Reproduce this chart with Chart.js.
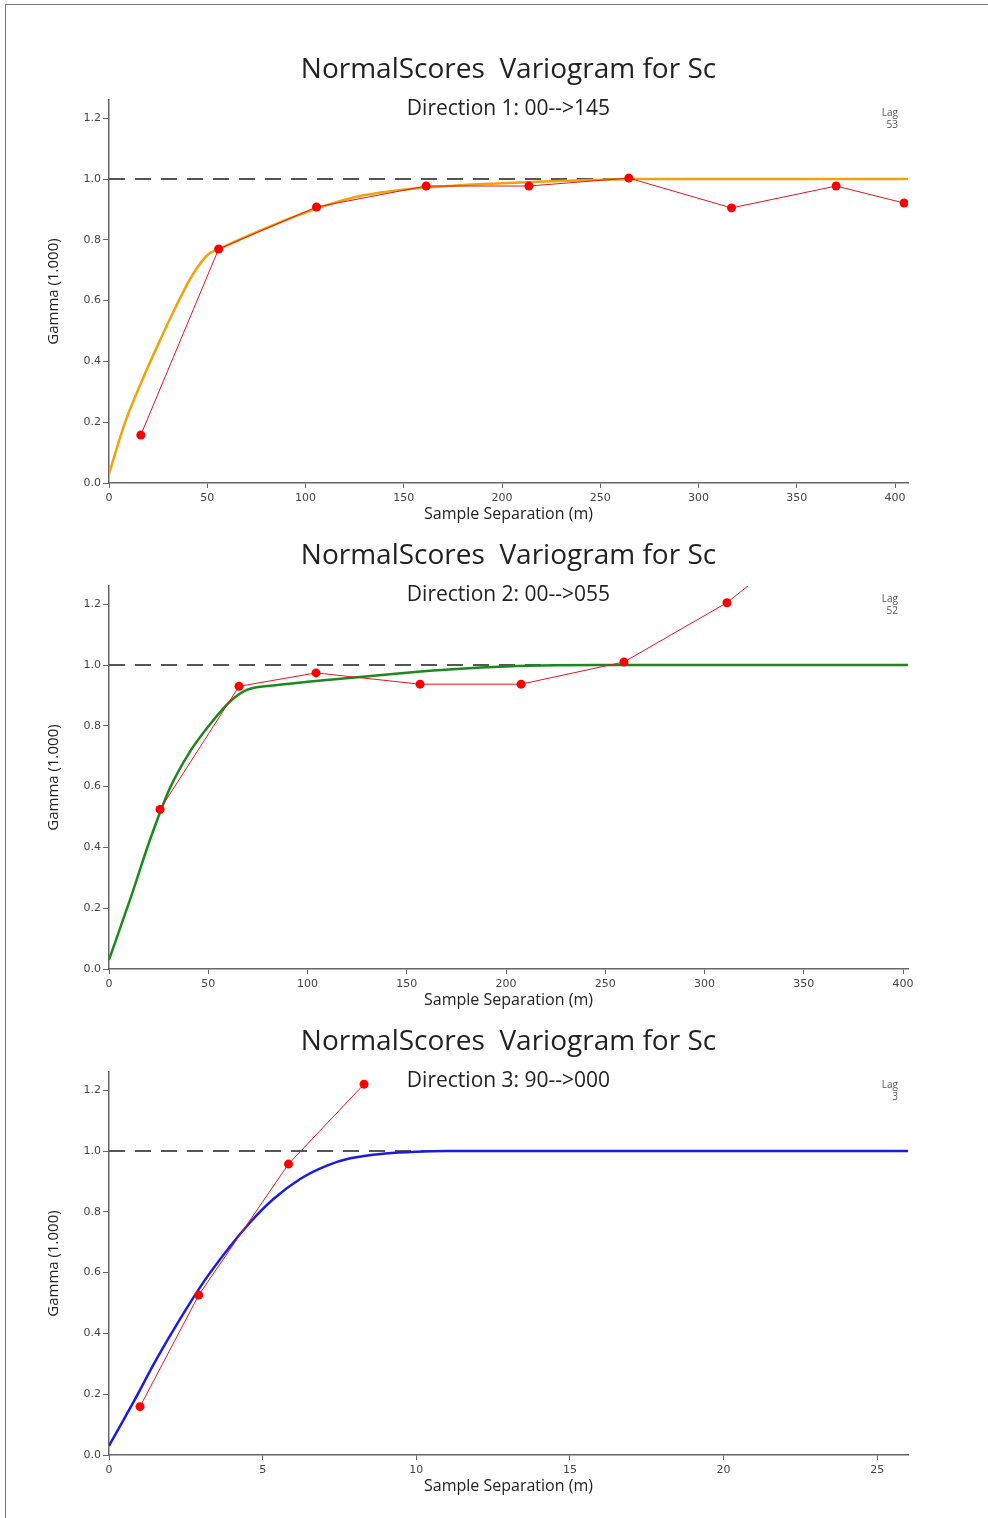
<!DOCTYPE html>
<html lang="en">
<head>
<meta charset="UTF-8">
<title>NormalScores Variogram for Sc</title>
<script src="https://cdn.jsdelivr.net/npm/chart.js"></script>
<style>
    body { margin: 0; background: #fff; width: 988px; height: 1518px; overflow: hidden; position: relative; }
    .frame { position: absolute; left: 5px; top: 4px; width: 1000px; height: 1600px; border: 1px solid #777; }
    canvas { position: absolute; left: 0; }
</style>
</head>
<body>

<div class="frame"></div>
<canvas id="dir1" width="988" height="486" style="top:40px"></canvas>
<canvas id="dir2" width="988" height="486" style="top:526px"></canvas>
<canvas id="dir3" width="988" height="486" style="top:1012px"></canvas>

<script>
// Direction 1: 00-->145
const d1ExpX = [16.2, 55.8, 105.6, 161.4, 213.7, 264.5, 316.8, 370.0, 404.6];
const d1ExpY = [0.158, 0.770, 0.908, 0.977, 0.977, 1.003, 0.905, 0.977, 0.921];
const d1ModX = [0, 8, 17, 26, 34, 43, 51, 56, 75, 100, 125, 150, 175, 200, 225, 250, 270, 406.6];
const d1ModY = [0.03, 0.196, 0.34, 0.47, 0.58, 0.69, 0.755, 0.77, 0.825, 0.89, 0.94, 0.965, 0.978, 0.986, 0.993, 0.998, 1.0, 1.0];

// Direction 2: 00-->055
const d2ExpX = [25.7, 65.5, 104.3, 156.7, 207.6, 259.4, 311.3, 362.0];
const d2ExpY = [0.525, 0.930, 0.974, 0.937, 0.937, 1.010, 1.205, 1.470];
const d2ModX = [0, 10.6, 20.7, 30.7, 40.8, 50.9, 61, 69.4, 86, 100, 125, 150, 175, 200, 225, 250, 402.5];
const d2ModY = [0.03, 0.228, 0.426, 0.595, 0.715, 0.805, 0.88, 0.918, 0.935, 0.945, 0.96, 0.975, 0.987, 0.995, 0.999, 1.0, 1.0];

// Direction 3: 90-->000
const d3ExpX = [1.01, 2.92, 5.84, 8.30];
const d3ExpY = [0.159, 0.526, 0.957, 1.220];
const d3ModX = [0, 0.79, 1.55, 2.31, 3.07, 3.83, 4.59, 5.35, 6.22, 7.09, 7.85, 9, 10, 11, 26];
const d3ModY = [0.03, 0.173, 0.316, 0.447, 0.568, 0.672, 0.765, 0.842, 0.908, 0.952, 0.976, 0.992, 0.998, 1.0, 1.0];

const sill = 1.0;
const yTicks = [0, 0.2, 0.4, 0.6, 0.8, 1.0, 1.2];
const xTicksLong = [0, 50, 100, 150, 200, 250, 300, 350, 400];
const xTicksShort = [0, 5, 10, 15, 20, 25];

// subtitle + lag note inside the plot area
const noteText = {
    id: 'noteText',
    afterDatasetsDraw(chart, args, opts) {
        const { ctx, chartArea } = chart;
        ctx.save();
        ctx.fillStyle = '#222';
        ctx.font = '21px "Open Sans"';
        ctx.textAlign = 'center';
        ctx.textBaseline = 'middle';
        ctx.fillText(opts.direction, (chartArea.left + chartArea.right) / 2, chartArea.top + 9);
        ctx.fillStyle = '#555';
        ctx.font = '10px "Open Sans"';
        ctx.textAlign = 'right';
        ctx.fillText('Lag', chartArea.right - 10, chartArea.top + 13);
        ctx.fillText(opts.lag, chartArea.right - 10, chartArea.top + 25);
        ctx.restore();
    }
};

function toPts(xs, ys) {
    return xs.map((x, i) => ({ x: x, y: ys[i] }));
}

function makeChart(id, direction, lag, expX, expY, modX, modY, modColor, xMax, xTicks) {
    const tickFont = { family: 'DejaVu Sans', size: 11 };
    return new Chart(document.getElementById(id), {
        type: 'scatter',
        data: {
            datasets: [
                {
                    label: 'Experimental',
                    data: toPts(expX, expY),
                    showLine: true,
                    borderColor: 'rgb(230,20,30)',
                    borderWidth: 1,
                    backgroundColor: 'red',
                    pointRadius: 4.5,
                    pointBorderWidth: 0,
                    clip: 0
                },
                {
                    label: 'Model',
                    data: toPts(modX, modY),
                    showLine: true,
                    borderColor: modColor,
                    borderWidth: 2.5,
                    pointRadius: 0,
                    cubicInterpolationMode: 'monotone',
                    clip: 0
                },
                {
                    label: 'Sill',
                    data: [{ x: 0, y: sill }, { x: xMax, y: sill }],
                    showLine: true,
                    borderColor: '#555',
                    borderWidth: 2,
                    borderDash: [16, 10],
                    pointRadius: 0
                }
            ]
        },
        options: {
            responsive: false,
            animation: false,
            layout: { padding: { left: 0, right: 80, top: 0, bottom: 0 } },
            plugins: {
                legend: { display: false },
                tooltip: { enabled: false },
                title: {
                    display: true,
                    text: 'NormalScores  Variogram for Sc',
                    fullSize: false,
                    color: '#222',
                    font: { family: 'Open Sans', size: 28, weight: 'normal' },
                    padding: { top: 13.2, bottom: 13.2 }
                },
                noteText: { direction: direction, lag: lag }
            },
            scales: {
                x: {
                    type: 'linear',
                    min: 0,
                    max: xMax,
                    afterBuildTicks(s) { s.ticks = xTicks.map(v => ({ value: v })); },
                    ticks: { color: '#444', font: tickFont, padding: 4, maxRotation: 0, autoSkip: false },
                    grid: { drawOnChartArea: false, tickLength: 5, color: '#666' },
                    border: { color: '#666', width: 1.5 },
                    title: {
                        display: true,
                        text: 'Sample Separation (m)',
                        color: '#222',
                        font: { family: 'Open Sans', size: 16 },
                        padding: { top: 0, bottom: 2 }
                    },
                    afterFit(s) { s.height = 43; }
                },
                y: {
                    min: 0,
                    max: 1.26,
                    afterBuildTicks(s) { s.ticks = yTicks.map(v => ({ value: v })); },
                    ticks: { color: '#444', font: tickFont, padding: 2, callback: v => v.toFixed(1) },
                    grid: { drawOnChartArea: false, tickLength: 6, color: '#666' },
                    border: { color: '#666', width: 1.5 },
                    title: {
                        display: true,
                        text: 'Gamma (1.000)',
                        color: '#222',
                        font: { family: 'Open Sans', size: 15 },
                        padding: { top: 45, bottom: 0 }
                    },
                    afterFit(s) { s.width = 109; }
                }
            }
        },
        plugins: [noteText]
    });
}

makeChart('dir1', 'Direction 1: 00-->145', '53', d1ExpX, d1ExpY, d1ModX, d1ModY, '#f2a20a', 406.6, xTicksLong);
makeChart('dir2', 'Direction 2: 00-->055', '52', d2ExpX, d2ExpY, d2ModX, d2ModY, '#1b8a1b', 402.5, xTicksLong);
makeChart('dir3', 'Direction 3: 90-->000', '3', d3ExpX, d3ExpY, d3ModX, d3ModY, '#1c1ce0', 26, xTicksShort);
</script>
</body>
</html>
